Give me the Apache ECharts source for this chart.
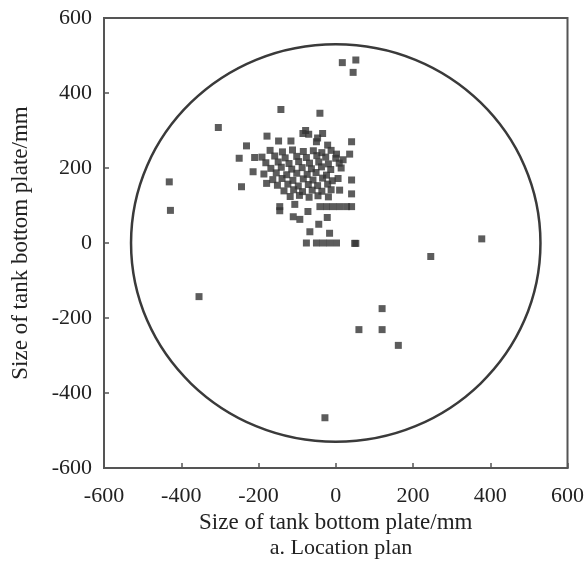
<!DOCTYPE html>
<html>
<head>
<meta charset="utf-8">
<script src="https://cdn.jsdelivr.net/npm/echarts@6/dist/echarts.min.js"></script>
<style>
  html, body { margin: 0; padding: 0; background: #fff; }
  #chart { width: 587px; height: 566px; }
</style>
</head>
<body>
<div id="chart"></div>
<script>
// Axis ticks (both axes share the same range)
const AXIS_MIN = -600;
const AXIS_MAX = 600;
const AXIS_STEP = 200;

// Tank outline radius, mm
const CIRCLE_R = 530;

// Scattered outliers
const outliers = [
  [17, 481], [52, 488], [45, 455],
  [-142, 356], [-41, 346], [-304, 308],
  [-431, 163], [-428, 87],
  [378, 11], [246, -36], [52, -1],
  [-354, -143], [120, -175], [60, -231], [120, -231], [162, -273],
  [-28, -466]
];

// Cluster edge points
const clusterEdge = [
  [-78, 300], [-70, 290], [-85, 292], [-34, 292],
  [-178, 285], [-148, 272], [-116, 272], [-50, 270], [-47, 280], [41, 270],
  [-231, 259], [-21, 261],
  [-250, 226], [-210, 228], [2, 237], [36, 237],
  [-214, 190], [-244, 150], [-179, 159], [41, 168], [10, 141], [41, 131],
  [-145, 97], [-145, 86], [-106, 103],
  [-41, 97], [-24, 97], [-7, 97], [10, 97], [28, 97], [41, 97],
  [-72, 84], [-110, 70], [-93, 63], [-22, 68], [-44, 50],
  [-67, 30], [-16, 26],
  [-76, 0], [-50, 0], [-33, 0], [-16, 0], [2, 0], [49, -1]
];

// Dense core of the cluster
const clusterCore = [
  [-170, 247], [-138, 243], [-112, 248], [-84, 244], [-58, 246], [-36, 241], [-12, 247],
  [-191, 229], [-158, 232], [-131, 227], [-101, 231], [-76, 228], [-49, 233], [-26, 229], [0, 226], [19, 222],
  [-181, 214], [-149, 216], [-121, 212], [-96, 217], [-68, 213], [-44, 216], [-19, 211], [9, 213],
  [-168, 199], [-141, 202], [-114, 197], [-87, 201], [-63, 198], [-37, 203], [-13, 196], [14, 200],
  [-186, 184], [-154, 187], [-127, 182], [-101, 186], [-74, 183], [-51, 188], [-24, 181],
  [-163, 169], [-139, 172], [-111, 167], [-84, 171], [-59, 168], [-34, 173], [-9, 166], [6, 172],
  [-151, 154], [-124, 157], [-97, 152], [-71, 156], [-47, 153], [-21, 157],
  [-134, 139], [-109, 142], [-86, 137], [-61, 141], [-36, 138], [-12, 142],
  [-118, 124], [-94, 127], [-69, 122], [-46, 126], [-19, 123]
];

const points = outliers.concat(clusterEdge, clusterCore);

const chart = echarts.init(document.getElementById('chart'), null, { renderer: 'canvas' });

const SERIF = '"Liberation Serif", "DejaVu Serif", serif';

const axisCommon = {
  type: 'value',
  min: AXIS_MIN,
  max: AXIS_MAX,
  interval: AXIS_STEP,
  axisLine: { show: true, onZero: false, lineStyle: { color: '#555', width: 2 } },
  axisTick: { show: true, inside: true, length: 5, lineStyle: { color: '#555', width: 1.5 } },
  splitLine: { show: false },
  nameTextStyle: { fontFamily: SERIF, fontSize: 23, color: '#222' }
};

chart.setOption({
  animation: false,
  backgroundColor: '#fff',
  title: {
    text: 'a. Location plan',
    left: 336,
    textAlign: 'center',
    top: 532,
    textStyle: { fontFamily: SERIF, fontSize: 22, fontWeight: 'normal', color: '#222' }
  },
  grid: {
    left: 104,
    right: 19,
    top: 18,
    bottom: 98,
    show: true,
    borderColor: '#555',
    borderWidth: 2,
    backgroundColor: 'transparent'
  },
  xAxis: Object.assign({}, axisCommon, {
    name: 'Size of tank bottom plate/mm',
    nameLocation: 'middle',
    nameGap: 41,
    axisLabel: { fontFamily: SERIF, fontSize: 22, color: '#222', margin: 17 }
  }),
  yAxis: Object.assign({}, axisCommon, {
    name: 'Size of tank bottom plate/mm',
    nameLocation: 'middle',
    nameGap: 72,
    axisLabel: { fontFamily: SERIF, fontSize: 22, color: '#222', margin: 12 }
  }),
  series: [
    {
      type: 'custom',
      silent: true,
      clip: false,
      data: [[0, 0, CIRCLE_R]],
      renderItem: function (params, api) {
        const c = api.coord([api.value(0), api.value(1)]);
        const e = api.coord([api.value(0) + api.value(2), api.value(1) + api.value(2)]);
        return {
          type: 'ellipse',
          shape: { cx: c[0], cy: c[1], rx: e[0] - c[0], ry: c[1] - e[1] },
          style: { fill: 'none', stroke: '#3a3a3a', lineWidth: 2.5 }
        };
      }
    },
    {
      type: 'scatter',
      data: points,
      symbol: 'rect',
      symbolSize: 7,
      itemStyle: { color: '#333' }
    }
  ]
});
</script>
</body>
</html>
